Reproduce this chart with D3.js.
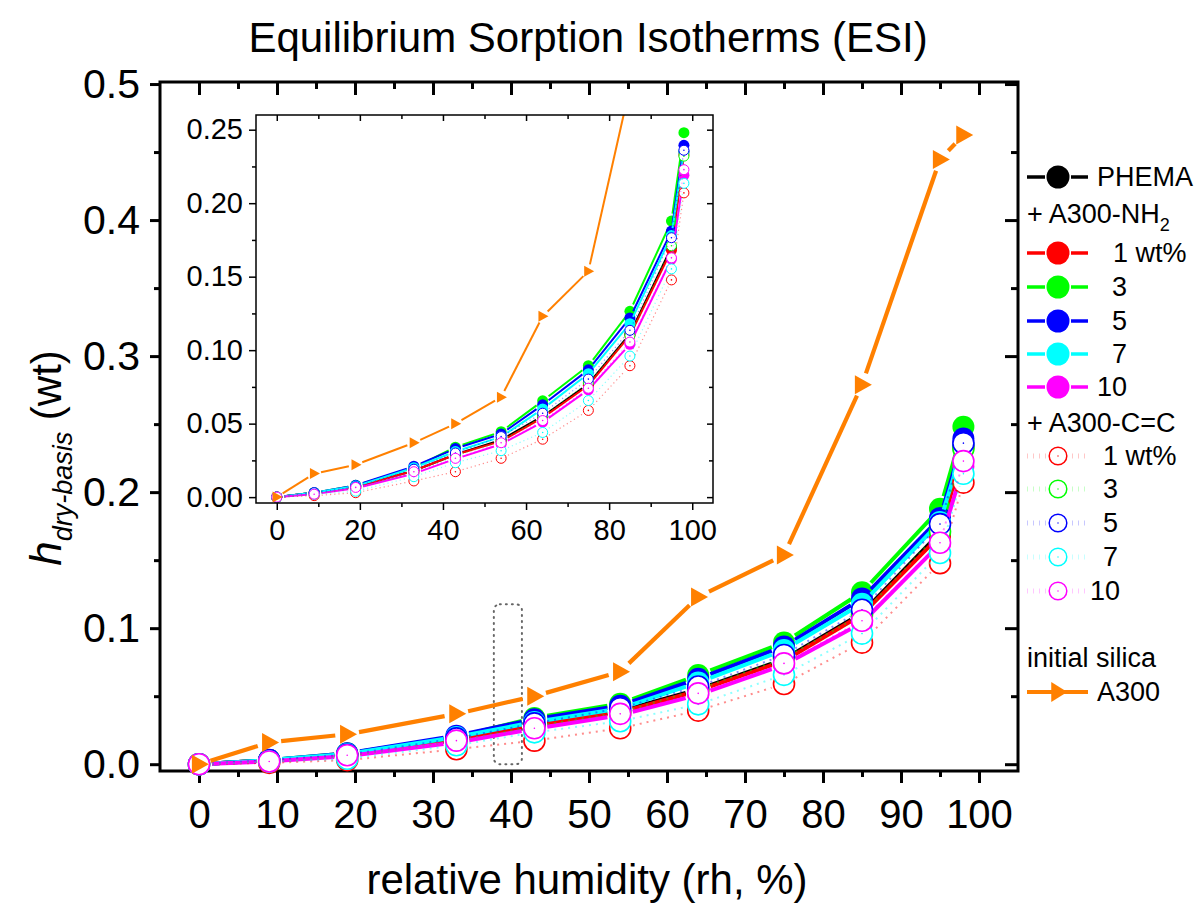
<!DOCTYPE html>
<html>
<head>
<meta charset="utf-8">
<script src="https://cdn.jsdelivr.net/npm/d3@7"></script>
<style>
  body { margin: 0; background: #fff; }
  svg { display: block; font-family: "Liberation Sans", Arial, Helvetica, sans-serif; }
</style>
</head>
<body>
<svg id="chart" width="1201" height="907"></svg>
<script>
// relative humidity steps (%)
const rh = [0, 9, 19, 33, 43, 54, 64, 75, 85, 95, 98]

// water uptake, dry basis (wt)
const phema  = [0, 0.003, 0.007, 0.018, 0.029, 0.039, 0.055, 0.077, 0.111, 0.170, 0.235]
const nh2_1  = [0, 0.003, 0.007, 0.018, 0.029, 0.038, 0.054, 0.076, 0.110, 0.168, 0.233]
const nh2_3  = [0, 0.003, 0.008, 0.020, 0.034, 0.0445, 0.0655, 0.0894, 0.1264, 0.1878, 0.248]
const nh2_5  = [0, 0.003, 0.008, 0.021, 0.033, 0.043, 0.0628, 0.0866, 0.1219, 0.181, 0.2394]
const nh2_7  = [0, 0.003, 0.0075, 0.020, 0.031, 0.041, 0.060, 0.084, 0.118, 0.178, 0.235]
const nh2_10 = [0, 0.002, 0.006, 0.016, 0.026, 0.036, 0.051, 0.073, 0.104, 0.162, 0.219]
const cc_1   = [0, 0.001, 0.003, 0.011, 0.0173, 0.0264, 0.0394, 0.059, 0.0894, 0.1478, 0.207]
const cc_3   = [0, 0.002, 0.006, 0.017, 0.028, 0.038, 0.055, 0.078, 0.110, 0.171, 0.232]
const cc_5   = [0, 0.003, 0.007, 0.019, 0.030, 0.0412, 0.0571, 0.0803, 0.1135, 0.1765, 0.236]
const cc_7   = [0, 0.002, 0.004, 0.0139, 0.0234, 0.0316, 0.044, 0.0657, 0.096, 0.1553, 0.2135]
const cc_10  = [0, 0.002, 0.0066, 0.0173, 0.0264, 0.037, 0.0521, 0.0741, 0.1055, 0.1628, 0.2228]
const a300   = [0, 0.016, 0.022, 0.037, 0.050, 0.068, 0.123, 0.1537, 0.279, 0.4446, 0.4625]

// tick labels
const xTicksMain  = [0, 10, 20, 30, 40, 50, 60, 70, 80, 90, 100]
const xMinorMain  = [5, 15, 25, 35, 45, 55, 65, 75, 85, 95]
const yTicksMain  = [0, 0.1, 0.2, 0.3, 0.4, 0.5]
const yMinorMain  = [0.05, 0.15, 0.25, 0.35, 0.45]
const xTicksInset = [0, 20, 40, 60, 80, 100]
const xMinorInset = [10, 30, 50, 70, 90]
const yTicksInset = [0, 0.05, 0.10, 0.15, 0.20, 0.25]
const yMinorInset = [0.025, 0.075, 0.125, 0.175, 0.225]

// highlighted region (dotted box) in data units: rh, h
const boxRh = [37.8, 41.4]
const boxH  = [0, 0.1176]

const series = [
  { label: "PHEMA", values: phema,  color: "#000000", kind: "filled" },
  { label: "1 wt%", values: nh2_1,  color: "#ff0000", kind: "filled" },
  { label: "3",     values: nh2_3,  color: "#00ff00", kind: "filled" },
  { label: "5",     values: nh2_5,  color: "#0000ff", kind: "filled" },
  { label: "7",     values: nh2_7,  color: "#00ffff", kind: "filled" },
  { label: "10",    values: nh2_10, color: "#ff00ff", kind: "filled" },
  { label: "1 wt%", values: cc_1,   color: "#ff0000", kind: "open" },
  { label: "3",     values: cc_3,   color: "#00ff00", kind: "open" },
  { label: "5",     values: cc_5,   color: "#0000ff", kind: "open" },
  { label: "7",     values: cc_7,   color: "#00ffff", kind: "open" },
  { label: "10",    values: cc_10,  color: "#ff00ff", kind: "open" },
  { label: "A300",  values: a300,   color: "#ff8000", kind: "tri" }
]

const svg = d3.select("#chart")

// main plot scales
const x = d3.scaleLinear().domain([-5, 105]).range([160, 1018])
const y = d3.scaleLinear().domain([-0.005, 0.5015]).range([771, 82])
// inset scales
const xi = d3.scaleLinear().domain([-5, 105]).range([256, 713])
const yi = d3.scaleLinear().domain([-0.004, 0.26]).range([503, 115])

// title and axis titles
svg.append("text")
  .attr("x", 588).attr("y", 52)
  .attr("text-anchor", "middle")
  .style("font-size", "42px")
  .text("Equilibrium Sorption Isotherms (ESI)")

svg.append("text")
  .attr("x", 587).attr("y", 894)
  .attr("text-anchor", "middle")
  .style("font-size", "42px")
  .text("relative humidity (rh, %)")

const ylab = svg.append("text")
  .attr("transform", "translate(61,458) rotate(-90)")
  .attr("text-anchor", "middle")
ylab.append("tspan").style("font-size", "44px").style("font-style", "italic").text("h")
ylab.append("tspan").attr("dy", 11).style("font-size", "27px").style("font-style", "italic").text("dry-basis")
ylab.append("tspan").attr("dy", -11).style("font-size", "42px").text(" (wt)")

// axis helper: draws ticks (and optional labels) with a given tick length
function drawAxis(g, axis, opts) {
  g.call(axis)
  g.select(".domain").remove()
  g.selectAll(".tick line").attr("stroke", "#000").attr("stroke-width", opts.sw)
  g.selectAll(".tick text").style("font-size", opts.fs + "px").attr("fill", "#000")
}

// ---- main axes ----
const fmt1 = d3.format(".1f")
drawAxis(svg.append("g").attr("transform", "translate(0,771)"),
  d3.axisBottom(x).tickValues(xTicksMain).tickSize(12).tickPadding(17).tickFormat(d3.format("d")), { sw: 3, fs: 40 })
drawAxis(svg.append("g").attr("transform", "translate(0,771)"),
  d3.axisBottom(x).tickValues(xMinorMain).tickSize(6).tickFormat(""), { sw: 3, fs: 40 })
drawAxis(svg.append("g").attr("transform", "translate(0,82)"),
  d3.axisTop(x).tickValues(xTicksMain).tickSize(-13).tickFormat(""), { sw: 3, fs: 40 })
drawAxis(svg.append("g").attr("transform", "translate(0,82)"),
  d3.axisTop(x).tickValues(xMinorMain).tickSize(-7).tickFormat(""), { sw: 3, fs: 40 })
drawAxis(svg.append("g").attr("transform", "translate(160,0)"),
  d3.axisLeft(y).tickValues(yTicksMain).tickSize(10).tickPadding(10).tickFormat(fmt1), { sw: 3, fs: 41 })
drawAxis(svg.append("g").attr("transform", "translate(160,0)"),
  d3.axisLeft(y).tickValues(yMinorMain).tickSize(6).tickFormat(""), { sw: 3, fs: 41 })
drawAxis(svg.append("g").attr("transform", "translate(1018,0)"),
  d3.axisRight(y).tickValues(yTicksMain).tickSize(-13).tickFormat(""), { sw: 3, fs: 41 })
drawAxis(svg.append("g").attr("transform", "translate(1018,0)"),
  d3.axisRight(y).tickValues(yMinorMain).tickSize(-7).tickFormat(""), { sw: 3, fs: 41 })

svg.append("rect")
  .attr("x", x.range()[0]).attr("y", y.range()[1])
  .attr("width", x.range()[1] - x.range()[0])
  .attr("height", y.range()[0] - y.range()[1])
  .attr("fill", "none").attr("stroke", "#000").attr("stroke-width", 3)

// dotted highlight box
svg.append("rect")
  .attr("x", x(boxRh[0])).attr("y", y(boxH[1]))
  .attr("width", x(boxRh[1]) - x(boxRh[0]))
  .attr("height", y(boxH[0]) - y(boxH[1]))
  .attr("rx", 6)
  .attr("fill", "none").attr("stroke", "#666").attr("stroke-width", 2)
  .attr("stroke-dasharray", "1 5").attr("stroke-linecap", "round")

// shorten each segment so the line stops short of the markers
function gapSegments(pts, g) {
  const segs = []
  for (let i = 0; i < pts.length - 1; i++) {
    const [x1, y1] = pts[i], [x2, y2] = pts[i + 1]
    const dx = x2 - x1, dy = y2 - y1, len = Math.hypot(dx, dy)
    if (len <= 2 * g) continue
    segs.push([x1 + dx / len * g, y1 + dy / len * g, x2 - dx / len * g, y2 - dy / len * g])
  }
  return segs
}

const triPath = (w, h) => `M${-w * 0.42},${-h / 2}L${w * 0.58},0L${-w * 0.42},${h / 2}Z`

function drawSeries(layer, sx, sy, s, sz) {
  const pts = rh.map((r, i) => [sx(r), sy(s.values[i])])
  const g = layer.append("g")
  const gap = s.kind === "tri" ? sz.tg : sz.r + 2
  const segs = gapSegments(pts, gap)
  const ln = g.selectAll("line").data(segs).enter().append("line")
    .attr("x1", d => d[0]).attr("y1", d => d[1])
    .attr("x2", d => d[2]).attr("y2", d => d[3])
    .attr("stroke", s.color)
  if (s.kind === "open") {
    ln.attr("stroke-width", sz.dw).attr("stroke-dasharray", sz.dash).attr("stroke-opacity", 0.45)
  } else {
    ln.attr("stroke-width", s.kind === "tri" ? sz.tw : sz.lw)
  }
  if (s.kind === "tri") {
    g.selectAll("path.m").data(pts).enter().append("path").attr("class", "m")
      .attr("transform", d => `translate(${d[0]},${d[1]})`)
      .attr("d", triPath(sz.tri[0], sz.tri[1]))
      .attr("fill", s.color)
  } else if (s.kind === "filled") {
    g.selectAll("circle").data(pts).enter().append("circle")
      .attr("cx", d => d[0]).attr("cy", d => d[1]).attr("r", sz.r)
      .attr("fill", s.color)
  } else {
    g.selectAll("circle.o").data(pts).enter().append("circle").attr("class", "o")
      .attr("cx", d => d[0]).attr("cy", d => d[1]).attr("r", sz.ro)
      .attr("fill", "#fff").attr("stroke", s.color).attr("stroke-width", sz.ow)
    g.selectAll("circle.c").data(pts).enter().append("circle").attr("class", "c")
      .attr("cx", d => d[0]).attr("cy", d => d[1]).attr("r", 0.8)
      .attr("fill", s.color)
  }
}

// ---- main data ----
const mainLayer = svg.append("g")
const mainSize = { r: 11, ro: 10.5, ow: 1.6, lw: 4, dw: 2, dash: "2 5", tw: 4.2, tg: 12, tri: [17, 19] }
series.forEach(s => drawSeries(mainLayer, x, y, s, mainSize))

// ---- inset ----
const inset = svg.append("g")
inset.append("rect")
  .attr("x", xi.range()[0]).attr("y", yi.range()[1])
  .attr("width", xi.range()[1] - xi.range()[0])
  .attr("height", yi.range()[0] - yi.range()[1])
  .attr("fill", "#fff")

svg.append("clipPath").attr("id", "insetClip").append("rect")
  .attr("x", xi.range()[0]).attr("y", yi.range()[1])
  .attr("width", xi.range()[1] - xi.range()[0])
  .attr("height", yi.range()[0] - yi.range()[1])

const fmt2 = d3.format(".2f")
drawAxis(inset.append("g").attr("transform", "translate(0,503)"),
  d3.axisBottom(xi).tickValues(xTicksInset).tickSize(7).tickPadding(9).tickFormat(d3.format("d")), { sw: 1.5, fs: 29 })
drawAxis(inset.append("g").attr("transform", "translate(0,503)"),
  d3.axisBottom(xi).tickValues(xMinorInset).tickSize(4).tickFormat(""), { sw: 1.5, fs: 29 })
drawAxis(inset.append("g").attr("transform", "translate(0,115)"),
  d3.axisTop(xi).tickValues(xTicksInset).tickSize(-6).tickFormat(""), { sw: 1.5, fs: 29 })
drawAxis(inset.append("g").attr("transform", "translate(0,115)"),
  d3.axisTop(xi).tickValues(xMinorInset).tickSize(-4).tickFormat(""), { sw: 1.5, fs: 29 })
drawAxis(inset.append("g").attr("transform", "translate(256,0)"),
  d3.axisLeft(yi).tickValues(yTicksInset).tickSize(7).tickPadding(6).tickFormat(fmt2), { sw: 1.5, fs: 29 })
drawAxis(inset.append("g").attr("transform", "translate(256,0)"),
  d3.axisLeft(yi).tickValues(yMinorInset).tickSize(4).tickFormat(""), { sw: 1.5, fs: 29 })
drawAxis(inset.append("g").attr("transform", "translate(713,0)"),
  d3.axisRight(yi).tickValues(yTicksInset).tickSize(-6).tickFormat(""), { sw: 1.5, fs: 29 })
drawAxis(inset.append("g").attr("transform", "translate(713,0)"),
  d3.axisRight(yi).tickValues(yMinorInset).tickSize(-4).tickFormat(""), { sw: 1.5, fs: 29 })

const insetData = inset.append("g").attr("clip-path", "url(#insetClip)")
const insetSize = { r: 5.5, ro: 5, ow: 1, lw: 2, dw: 1.2, dash: "1.2 3", tw: 2, tg: 7, tri: [10, 11] }
series.forEach(s => drawSeries(insetData, xi, yi, s, insetSize))

inset.append("rect")
  .attr("x", xi.range()[0]).attr("y", yi.range()[1])
  .attr("width", xi.range()[1] - xi.range()[0])
  .attr("height", yi.range()[0] - yi.range()[1])
  .attr("fill", "none").attr("stroke", "#000").attr("stroke-width", 1.5)

// ---- legend ----
const leg = svg.append("g").style("font-size", "27px")
const legX0 = 1027, legX1 = 1088, legXc = 1058
// rows: [series index or heading text, row y, text x]
const legendRows = [
  [0, 177, 1097], ["nh2", 214, 1027], [1, 253, 1113], [2, 287, 1112], [3, 321, 1112],
  [4, 354, 1112], [5, 387, 1097], ["cc", 423, 1027], [6, 456, 1103], [7, 489, 1103],
  [8, 523, 1103], [9, 557, 1103], [10, 591, 1090], ["silica", 658, 1027], [11, 692, 1097]
]
legendRows.forEach(([key, ry, tx]) => {
  if (key === "nh2") {
    const t = leg.append("text").attr("x", tx).attr("y", ry).attr("dy", "0.35em")
    t.append("tspan").text("+ A300-NH")
    t.append("tspan").attr("dy", 8).style("font-size", "18px").text("2")
    return
  }
  if (key === "cc" || key === "silica") {
    leg.append("text").attr("x", tx).attr("y", ry).attr("dy", "0.35em")
      .text(key === "cc" ? "+ A300-C=C" : "initial silica")
    return
  }
  const s = series[key]
  if (s.kind === "filled") {
    leg.append("line").attr("x1", legX0).attr("x2", legXc - 13).attr("y1", ry).attr("y2", ry)
      .attr("stroke", s.color).attr("stroke-width", 3.5)
    leg.append("line").attr("x1", legXc + 13).attr("x2", legX1).attr("y1", ry).attr("y2", ry)
      .attr("stroke", s.color).attr("stroke-width", 3.5)
    leg.append("circle").attr("cx", legXc).attr("cy", ry).attr("r", 11.5).attr("fill", s.color)
  } else if (s.kind === "open") {
    leg.append("line").attr("x1", legX0).attr("x2", legXc - 12).attr("y1", ry).attr("y2", ry)
      .attr("stroke", s.color).attr("stroke-opacity", 0.22).attr("stroke-width", 5).attr("stroke-dasharray", "1 5")
    leg.append("line").attr("x1", legXc + 14).attr("x2", legX1).attr("y1", ry).attr("y2", ry)
      .attr("stroke", s.color).attr("stroke-opacity", 0.22).attr("stroke-width", 5).attr("stroke-dasharray", "1 5")
    leg.append("circle").attr("cx", legXc).attr("cy", ry).attr("r", 8.8)
      .attr("fill", "#fff").attr("stroke", s.color).attr("stroke-width", 1.5)
    leg.append("circle").attr("cx", legXc).attr("cy", ry).attr("r", 0.7).attr("fill", s.color)
  } else {
    leg.append("line").attr("x1", legX0).attr("x2", legX1).attr("y1", ry).attr("y2", ry)
      .attr("stroke", s.color).attr("stroke-width", 4)
    leg.append("path").attr("transform", `translate(${legXc},${ry})`)
      .attr("d", triPath(16, 20)).attr("fill", s.color)
  }
  leg.append("text").attr("x", tx).attr("y", ry).attr("dy", "0.35em").text(s.label)
})
</script>
</body>
</html>
